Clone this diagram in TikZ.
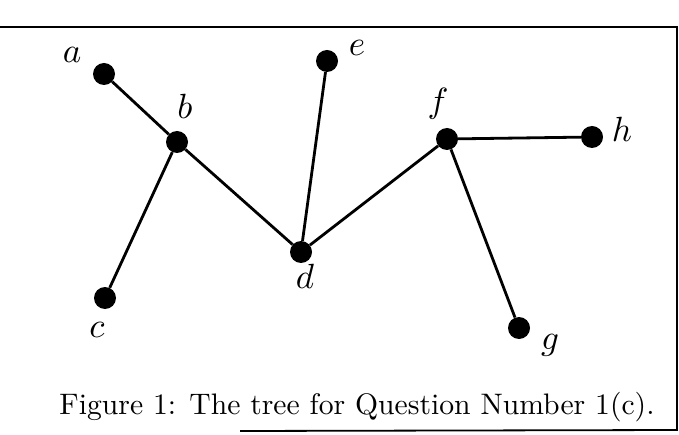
\documentclass[tikz,border=0pt]{standalone}
\usepackage{graphicx}
\newcommand{\vlab}[1]{\scalebox{3.5}{$#1$}}
\begin{document}
\begin{tikzpicture}[x=1pt,y=-1pt,
  vert/.style={circle,fill=black,inner sep=0pt,minimum size=22pt},
  edge/.style={line width=2.8pt},
  lbl/.style={inner sep=0pt},
  frameline/.style={line width=1.8pt}]
\useasboundingbox (0,0) rectangle (679,435);
% frame
\coordinate (tl) at (0,27);
\coordinate (tr) at (677,27);
\coordinate (br) at (677,430);
\coordinate (bl) at (240,431);
\draw[frameline] (tl) -- (tr) -- (br) -- (bl);
% vertices
\node[vert] (a) at (104,74) {};
\node[vert] (b) at (177,142) {};
\node[vert] (c) at (105,298) {};
\node[vert] (d) at (301,252) {};
\node[vert] (e) at (327,61) {};
\node[vert] (f) at (447,139) {};
\node[vert] (g) at (519,328) {};
\node[vert] (h) at (592,137) {};
% edges
\draw[edge] (a) -- (b);
\draw[edge] (b) -- (c);
\draw[edge] (b) -- (d);
\draw[edge] (d) -- (e);
\draw[edge] (d) -- (f);
\draw[edge] (f) -- (h);
\draw[edge] (f) -- (g);
% labels
\node[lbl] (la) at (72,55) {\vlab{a}};
\node[lbl] (lb) at (185,106) {\vlab{b}};
\node[lbl] (lc) at (97,330) {\vlab{c}};
\node[lbl] (ld) at (305,276) {\vlab{d}};
\node[lbl] (le) at (357,48) {\vlab{e}};
\node[lbl] (lf) at (438,104) {\vlab{f}};
\node[lbl] (lg) at (550,345) {\vlab{g}};
\node[lbl] (lh) at (622,129) {\vlab{h}};
% caption
\node[inner sep=0pt] (cap) at (357,407) {\resizebox{595pt}{!}{Figure 1: The tree for Question Number 1(c).}};
\end{tikzpicture}
\end{document}
